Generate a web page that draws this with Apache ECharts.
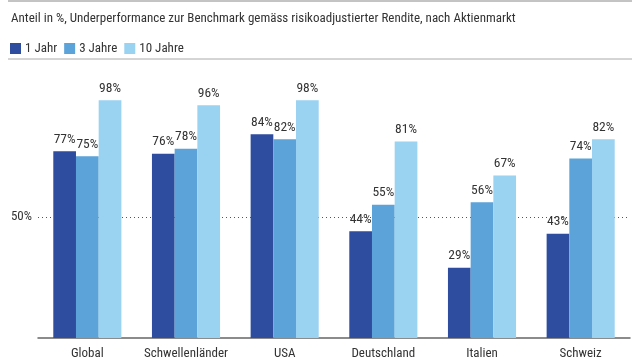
<!DOCTYPE html>
<html>
<head>
<meta charset="utf-8">
<script src="https://cdn.jsdelivr.net/npm/echarts@6/dist/echarts.min.js"></script>
<style>
html,body{margin:0;padding:0;background:#fff;}
#c{width:640px;height:360px;}
</style>
</head>
<body>
<div id="c"></div>
<script>
var categories = ['Global', 'Schwellenländer', 'USA', 'Deutschland', 'Italien', 'Schweiz'];
var seriesNames = ['1 Jahr', '3 Jahre', '10 Jahre'];
var jahr1 = [77, 76, 84, 44, 29, 43];
var jahre3 = [75, 78, 82, 55, 56, 74];
var jahre10 = [98, 96, 98, 81, 67, 82];
var yTicks = [0, 50, 100];
var titleText = 'Anteil in %, Underperformance zur Benchmark gemäss risikoadjustierter Rendite, nach Aktienmarkt';

var FONT = '"Roboto Condensed", "Liberation Sans Narrow", sans-serif';
var colors = ['#2f4d9f', '#5ba3d8', '#9ad2f1'];
var values = [jahr1, jahre3, jahre10];

var chart = echarts.init(document.getElementById('c'), null, {renderer: 'canvas'});
chart.setOption({
  animation: false,
  color: colors,
  textStyle: {fontFamily: FONT},
  title: {
    text: titleText,
    left: 6, top: 7,
    textStyle: {fontFamily: FONT, fontSize: 13, fontWeight: 'normal', color: '#333'}
  },
  legend: {
    data: seriesNames,
    left: 5, top: 37,
    itemWidth: 11, itemHeight: 11, itemGap: 7,
    icon: 'rect',
    textStyle: {fontFamily: FONT, fontSize: 13, color: '#333', padding: [0, 0, 0, -1]}
  },
  graphic: [
    {type: 'line', shape: {x1: 8, y1: 1, x2: 632, y2: 1}, style: {stroke: '#888', lineWidth: 1}},
    {type: 'line', shape: {x1: 8, y1: 59, x2: 632, y2: 59}, style: {stroke: '#aaa', lineWidth: 1}}
  ],
  grid: {left: 38, right: 10, top: 95.5, bottom: 14.5, containLabel: false},
  xAxis: {
    type: 'category',
    data: categories,
    axisLine: {lineStyle: {color: '#666', width: 1.5}},
    axisTick: {show: false},
    axisLabel: {fontFamily: FONT, fontSize: 13, color: '#333', margin: 9, interval: 0}
  },
  yAxis: {
    type: 'value',
    min: yTicks[0], max: yTicks[yTicks.length - 1], interval: 50,
    axisLine: {show: false},
    axisTick: {show: false},
    axisLabel: {
      fontFamily: FONT, fontSize: 13, color: '#333', margin: 6,
      showMinLabel: false, showMaxLabel: false,
      formatter: function (v) { return v + '%'; }
    },
    splitLine: {
      show: true, showMinLine: false, showMaxLine: false,
      lineStyle: {color: '#555', type: [1, 3], width: 1}
    }
  },
  series: seriesNames.map(function (n, i) {
    return {
      name: n,
      type: 'bar',
      data: values[i],
      barGap: '0%',
      barCategoryGap: '31%',
      itemStyle: {color: colors[i]},
      label: {
        show: true, position: 'top', distance: 5,
        fontFamily: FONT, fontSize: 13.5, color: '#333',
        formatter: '{c}%'
      }
    };
  })
});
</script>
</body>
</html>
